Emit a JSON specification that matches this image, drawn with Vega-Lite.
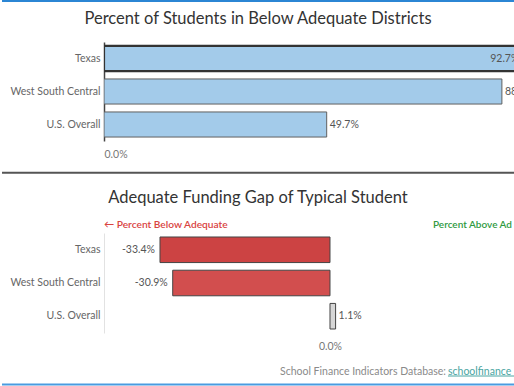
{
  "$schema": "https://vega.github.io/schema/vega-lite/v6.json",
  "padding": 0,
  "spacing": 15,
  "config": {
    "view": {"stroke": null},
    "font": "Lato",
    "locale": {"number": {"decimal": ".", "thousands": ",", "grouping": [3], "currency": ["$", ""], "minus": "-"}},
    "axis": {"labelFont": "Lato", "titleFont": "Lato", "grid": false, "ticks": false}
  },
  "vconcat": [
    {
      "width": 410,
      "height": 99,
      "title": {
        "text": "Percent of Students in Below Adequate Districts",
        "fontSize": 16.5,
        "fontWeight": "normal",
        "color": "#333333",
        "anchor": "middle",
        "frame": "bounds",
        "baseline": "bottom",
        "offset": 0,
        "dy": 43.5
      },
      "layer": [
        {
          "data": {
            "values": [
              {"region": "Texas", "value": 0.927},
              {"region": "West South Central", "value": 0.888},
              {"region": "U.S. Overall", "value": 0.497}
            ]
          },
          "encoding": {
            "y": {
              "field": "region",
              "type": "nominal",
              "sort": null,
              "scale": {"paddingInner": 0.24, "paddingOuter": 0.12},
              "axis": {
                "title": null,
                "labelFontSize": 10.5,
                "labelColor": "#666666",
                "labelPadding": 4,
                "domainColor": "#444444",
                "domainWidth": 1.5
              }
            },
            "x": {
              "field": "value",
              "type": "quantitative",
              "scale": {"domain": [0, 0.915], "nice": false, "zero": true},
              "axis": {
                "title": null,
                "values": [0],
                "format": ".1%",
                "labelFlush": true,
                "labelFontSize": 10.5,
                "labelColor": "#777777",
                "labelPadding": 8,
                "domain": false
              }
            }
          },
          "layer": [
            {
              "mark": {"type": "bar", "clip": true, "fill": "#a3cbea"},
              "encoding": {
                "stroke": {
                  "condition": {"test": "datum.region === 'Texas'", "value": "#333333"},
                  "value": "#606060"
                },
                "strokeWidth": {
                  "condition": {"test": "datum.region === 'Texas'", "value": 2.2},
                  "value": 1
                }
              }
            },
            {
              "transform": [{"filter": "datum.region === 'Texas'"}],
              "mark": {"type": "text", "clip": true, "align": "right", "dx": 0, "fontSize": 10.5, "color": "#555555"},
              "encoding": {"text": {"field": "value", "type": "quantitative", "format": ".1%"}}
            },
            {
              "transform": [{"filter": "datum.region !== 'Texas'"}],
              "mark": {"type": "text", "clip": true, "align": "left", "dx": 3, "fontSize": 10.5, "color": "#555555"},
              "encoding": {"text": {"field": "value", "type": "quantitative", "format": ".1%"}}
            }
          ]
        },
        {
          "data": {"values": [{"edge": "frame top"}]},
          "mark": {"type": "rule", "color": "#2b86d4", "strokeWidth": 2},
          "encoding": {
            "x": {"datum": -0.2276, "type": "quantitative", "scale": {"domain": [0, 0.915], "nice": false}},
            "x2": {"datum": 0.915},
            "y": {"datum": 1.414, "type": "quantitative", "scale": {"domain": [0, 1], "nice": false, "zero": false}, "axis": null}
          }
        },
        {
          "data": {"values": [{"edge": "divider"}]},
          "mark": {"type": "rule", "color": "#555555", "strokeWidth": 2},
          "encoding": {
            "x": {"datum": -0.2276, "type": "quantitative", "scale": {"domain": [0, 0.915], "nice": false}},
            "x2": {"datum": 0.915},
            "y": {"datum": -0.3207, "type": "quantitative", "scale": {"domain": [0, 1], "nice": false, "zero": false}, "axis": null}
          }
        }
      ],
      "resolve": {"scale": {"y": "independent"}}
    },
    {
      "width": 410,
      "height": 100,
      "title": {
        "text": "Adequate Funding Gap of Typical Student",
        "fontSize": 16.5,
        "fontWeight": "normal",
        "color": "#333333",
        "anchor": "middle",
        "frame": "bounds",
        "baseline": "bottom",
        "offset": 0,
        "dy": 2
      },
      "layer": [
        {
          "data": {
            "values": [
              {"region": "Texas", "gap": -0.334},
              {"region": "West South Central", "gap": -0.309},
              {"region": "U.S. Overall", "gap": 0.011}
            ]
          },
          "encoding": {
            "y": {
              "field": "region",
              "type": "nominal",
              "sort": null,
              "scale": {"paddingInner": 0.23, "paddingOuter": 0.12},
              "axis": {
                "title": null,
                "labelFontSize": 10.5,
                "labelColor": "#666666",
                "labelPadding": 4,
                "domainColor": "#e2e2e2",
                "domainWidth": 1
              }
            },
            "x": {
              "field": "gap",
              "type": "quantitative",
              "scale": {"domain": [-0.444, 0.3615], "nice": false, "zero": false},
              "axis": {
                "title": null,
                "values": [0],
                "format": ".1%",
                "labelFontSize": 10.5,
                "labelColor": "#777777",
                "labelPadding": 8,
                "domain": false
              }
            }
          },
          "layer": [
            {
              "mark": {"type": "bar", "stroke": "#444444", "strokeWidth": 1},
              "encoding": {
                "color": {
                  "field": "region",
                  "type": "nominal",
                  "scale": {
                    "domain": ["Texas", "West South Central", "U.S. Overall"],
                    "range": ["#cc4343", "#d24e4e", "#d6d6d6"]
                  },
                  "legend": null
                }
              }
            },
            {
              "transform": [{"filter": "datum.gap < 0"}],
              "mark": {"type": "text", "align": "right", "dx": -5, "fontSize": 10.5, "color": "#555555"},
              "encoding": {"text": {"field": "gap", "type": "quantitative", "format": ".1%"}}
            },
            {
              "transform": [{"filter": "datum.gap >= 0"}],
              "mark": {"type": "text", "align": "left", "dx": 3, "fontSize": 10.5, "color": "#555555"},
              "encoding": {"text": {"field": "gap", "type": "quantitative", "format": ".1%"}}
            },
            {
              "mark": {"type": "rule", "color": "#666666", "strokeWidth": 1},
              "encoding": {"x": {"datum": 0}}
            }
          ]
        },
        {
          "data": {"values": [{"note": "← Percent Below Adequate"}]},
          "mark": {"type": "text", "align": "left", "baseline": "middle", "fontSize": 10.2, "fontWeight": 600, "color": "#d9443f"},
          "encoding": {
            "x": {"datum": -0.444, "type": "quantitative", "scale": {"domain": [-0.444, 0.3615], "nice": false, "zero": false}},
            "y": {"datum": 1.08, "type": "quantitative", "scale": {"domain": [0, 1], "nice": false, "zero": false}, "axis": null},
            "text": {"field": "note"}
          }
        },
        {
          "data": {"values": [{"note": "Percent Above Adequate →"}]},
          "mark": {"type": "text", "align": "left", "baseline": "middle", "fontSize": 10, "fontWeight": 600, "color": "#2f9a3f", "limit": 81, "ellipsis": "\u200b"},
          "encoding": {
            "x": {"datum": 0.2023, "type": "quantitative", "scale": {"domain": [-0.444, 0.3615], "nice": false, "zero": false}},
            "y": {"datum": 1.08, "type": "quantitative", "scale": {"domain": [0, 1], "nice": false, "zero": false}, "axis": null},
            "text": {"field": "note"}
          }
        },
        {
          "data": {"values": [{"note": "School Finance Indicators Database:"}]},
          "mark": {"type": "text", "align": "left", "baseline": "middle", "fontSize": 10.5, "color": "#8a8a8a"},
          "encoding": {
            "x": {"datum": -0.0982, "type": "quantitative", "scale": {"domain": [-0.444, 0.3615], "nice": false, "zero": false}},
            "y": {"datum": -0.385, "type": "quantitative", "scale": {"domain": [0, 1], "nice": false, "zero": false}, "axis": null},
            "text": {"field": "note"}
          }
        },
        {
          "data": {"values": [{"note": "schoolfinancedata.org"}]},
          "mark": {"type": "text", "align": "left", "baseline": "middle", "fontSize": 10.5, "color": "#4aa5a2", "limit": 66, "ellipsis": "\u200b"},
          "encoding": {
            "x": {"datum": 0.2318, "type": "quantitative", "scale": {"domain": [-0.444, 0.3615], "nice": false, "zero": false}},
            "y": {"datum": -0.385, "type": "quantitative", "scale": {"domain": [0, 1], "nice": false, "zero": false}, "axis": null},
            "text": {"field": "note"}
          }
        },
        {
          "data": {"values": [{"edge": "link underline"}]},
          "mark": {"type": "rule", "color": "#4aa5a2", "strokeWidth": 1},
          "encoding": {
            "x": {"datum": 0.2318, "type": "quantitative", "scale": {"domain": [-0.444, 0.3615], "nice": false, "zero": false}},
            "x2": {"datum": 0.3615},
            "y": {"datum": -0.43, "type": "quantitative", "scale": {"domain": [0, 1], "nice": false, "zero": false}, "axis": null}
          }
        },
        {
          "data": {"values": [{"edge": "frame bottom"}]},
          "mark": {"type": "rule", "color": "#4a9be0", "strokeWidth": 2},
          "encoding": {
            "x": {"datum": -0.6444, "type": "quantitative", "scale": {"domain": [-0.444, 0.3615], "nice": false, "zero": false}},
            "x2": {"datum": 0.3615},
            "y": {"datum": -0.515, "type": "quantitative", "scale": {"domain": [0, 1], "nice": false, "zero": false}, "axis": null}
          }
        }
      ],
      "resolve": {"scale": {"y": "independent"}}
    }
  ]
}
